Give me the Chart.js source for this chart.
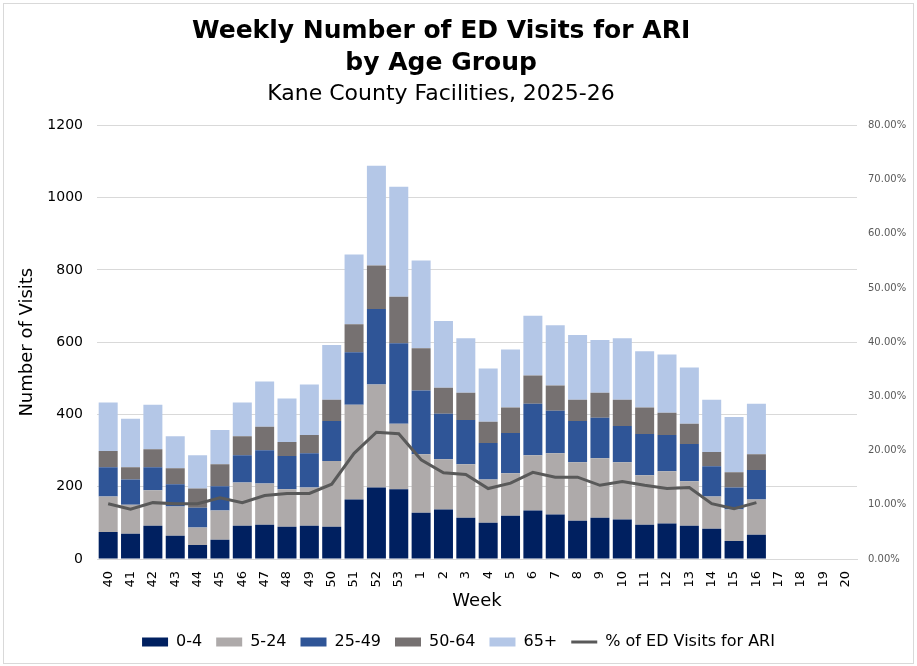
<!DOCTYPE html>
<html>
<head>
<meta charset="utf-8">
<script src="https://cdn.jsdelivr.net/npm/chart.js@4.4.1/dist/chart.umd.min.js"></script>
<style>
  body { margin: 0; background: #fff; }
  #wrap { position: absolute; left: 3px; top: 3px; width: 909px; height: 659px; border: 1px solid #d9d9d9; }
</style>
</head>
<body>
<div id="wrap"><canvas id="ariChart" width="909" height="659"></canvas></div>
<script>
// 週次（40-53, 1-20）
const weeks = ['40','41','42','43','44','45','46','47','48','49','50','51','52','53',
  '1','2','3','4','5','6','7','8','9','10','11','12','13','14','15','16','17','18','19','20'];

// 各年齡層每週就診數
const age0to4 = [75,70,92,64,39,53,92,95,89,92,89,165,198,193,128,137,114,100,120,134,123,106,114,109,95,98,92,84,50,67];
const age5to24 = [98,80,98,81,48,81,120,114,104,106,182,262,285,181,162,139,148,120,117,153,170,162,165,159,137,145,123,89,87,98];
const age25to49 = [81,70,64,62,55,67,75,92,92,95,111,145,209,223,176,126,123,101,112,143,117,114,112,100,114,100,103,84,61,81];
const age50to64 = [45,34,50,44,53,61,53,65,39,50,59,78,120,129,117,72,75,59,70,78,70,59,69,73,73,62,56,39,42,44];
const age65plus = [134,134,123,89,92,95,93,125,120,140,151,193,276,304,243,185,151,147,161,165,167,179,146,170,156,161,156,145,153,140];

// ARI 佔急診比例 (%)
const pctAri = [10.2,9.2,10.4,10.2,10.2,11.3,10.4,11.7,12.1,12.1,13.8,19.5,23.4,23.1,18.3,15.9,15.6,13.0,14.0,16.0,15.1,15.1,13.6,14.3,13.6,13.0,13.2,10.2,9.3,10.4];

const FONT = 'DejaVu Sans';
// 標題在原圖中略偏左，用尾端空白把置中點往左推
const PAD_BOLD = '    ';
const PAD_SUB = '     ';

function barSet(label, data, color) {
  return {
    label: label,
    data: data,
    backgroundColor: color,
    borderWidth: 0,
    pointStyle: 'rect',
    yAxisID: 'y',
    order: 1,
    barPercentage: 0.85,
    categoryPercentage: 1
  };
}

const ctx = document.getElementById('ariChart').getContext('2d');
new Chart(ctx, {
  type: 'bar',
  data: {
    labels: weeks,
    datasets: [
      barSet('0-4', age0to4, '#002060'),
      barSet('5-24', age5to24, '#AEAAAA'),
      barSet('25-49', age25to49, '#2F5597'),
      barSet('50-64', age50to64, '#767171'),
      barSet('65+', age65plus, '#B4C7E7'),
      {
        type: 'line',
        label: '% of ED Visits for ARI',
        data: pctAri,
        borderColor: '#595959',
        backgroundColor: '#595959',
        borderWidth: 3,
        pointRadius: 0,
        pointStyle: 'line',
        tension: 0,
        yAxisID: 'y1',
        order: 0
      }
    ]
  },
  options: {
    responsive: false,
    animation: false,
    layout: { padding: { bottom: 3 } },
    scales: {
      x: {
        stacked: true,
        grid: { display: false, drawTicks: false },
        border: { color: '#d9d9d9' },
        ticks: {
          autoSkip: false,
          maxRotation: 90,
          minRotation: 90,
          padding: 12,
          color: '#000',
          font: { family: FONT, size: 13 }
        },
        title: {
          display: true,
          text: 'Week',
          color: '#000',
          font: { family: FONT, size: 18 },
          padding: { top: 0, bottom: 8 }
        },
        afterFit: function(scale) { scale.height = 61; }
      },
      y: {
        stacked: true,
        min: 0,
        max: 1200,
        position: 'left',
        border: { display: false },
        grid: { color: '#d9d9d9', drawTicks: false },
        ticks: {
          stepSize: 200,
          padding: 14,
          color: '#000',
          font: { family: FONT, size: 14 },
          callback: function(v) { return String(v); }
        },
        title: {
          display: true,
          text: 'Number of Visits',
          color: '#000',
          font: { family: FONT, size: 18 },
          padding: { top: 13, bottom: 0 }
        },
        afterFit: function(scale) { scale.width = 93; }
      },
      y1: {
        min: 0,
        max: 80,
        position: 'right',
        border: { display: false },
        grid: { display: false, drawTicks: false },
        ticks: {
          stepSize: 10,
          padding: 11,
          color: '#595959',
          font: { family: FONT, size: 10 },
          callback: function(v) { return v.toFixed(2) + '%'; }
        },
        afterFit: function(scale) { scale.width = 56; }
      }
    },
    plugins: {
      title: {
        display: true,
        text: ['Weekly Number of ED Visits for ARI' + PAD_BOLD, 'by Age Group' + PAD_BOLD],
        color: '#000',
        font: { family: FONT, size: 25, weight: 'bold', lineHeight: 1.28 },
        padding: { top: 11, bottom: 0 }
      },
      subtitle: {
        display: true,
        text: 'Kane County Facilities, 2025-26' + PAD_SUB,
        color: '#000',
        font: { family: FONT, size: 22, weight: 'normal' },
        padding: { top: 2, bottom: 18 }
      },
      legend: {
        position: 'bottom',
        labels: {
          usePointStyle: true,
          pointStyleWidth: 26,
          boxHeight: 9,
          padding: 14,
          color: '#000',
          font: { family: FONT, size: 16 },
          sort: function(a, b) { return a.datasetIndex - b.datasetIndex; }
        }
      },
      tooltip: { enabled: false }
    }
  }
});
</script>
</body>
</html>
